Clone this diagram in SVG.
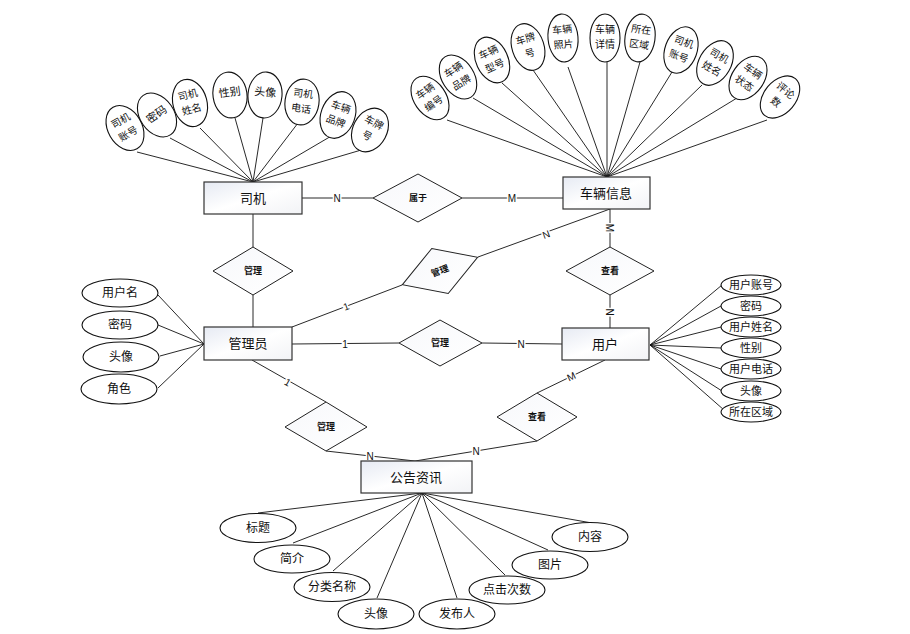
<svg xmlns="http://www.w3.org/2000/svg" width="910" height="634" viewBox="0 0 910 634">
<defs>
<linearGradient id="gb" x1="0" y1="0" x2="1" y2="1">
<stop offset="0" stop-color="#e6eaf3"/>
<stop offset="0.5" stop-color="#ffffff"/>
<stop offset="1" stop-color="#f2f3f6"/>
</linearGradient>
<linearGradient id="gd" x1="0" y1="0" x2="1" y2="1">
<stop offset="0" stop-color="#f7f8fb"/>
<stop offset="1" stop-color="#ffffff"/>
</linearGradient>
</defs>
<style>
.bx{fill:url(#gb);stroke:#333;stroke-width:1.2}
.dm{fill:url(#gd);stroke:#222;stroke-width:1}
.el{fill:#fff;stroke:#111;stroke-width:1.1}
.ln{stroke:#111;stroke-width:0.9;fill:none}
.t{font-family:"Noto Sans CJK SC","Noto Sans",sans-serif;text-anchor:middle;fill:#111}
.tb{font-size:13px}
.td{font-size:9px;font-weight:bold}
.ta{font-size:12px}
.ts{font-size:11px}
.tt{font-size:10px}
.c{font-family:"Liberation Sans",Arial,sans-serif;font-size:10px;text-anchor:middle;fill:#111;stroke:#fff;stroke-width:3;paint-order:stroke}
</style>
<rect width="910" height="634" fill="#fff"/>

<g id="connectors">
<path class="ln" d="M137,152L253,182M170,138L253,182M200,128L253,182M235,118L253,182M263,118L253,182M298,123L253,182M333,135L253,182M368,148L253,182"/>
<path class="ln" d="M447,120L607,177M473,98L607,177M502,83L607,177M533,70L607,177M568,67L607,177M607,62L607,177M640,62L607,177M672,72L607,177M702,85L607,177M737,98L607,177M767,120L607,177"/>
<path class="ln" d="M158,295L204,344M158,325L204,344M160,356L204,344M158,388L204,344"/>
<path class="ln" d="M722,285L650,345M721,306L650,345M721,327L650,345M721,348L650,345M721,369L650,345M722,391L650,345M724,410L650,345"/>
<path class="ln" d="M258,513L422,493M293,543L422,493M333,571L422,493M377,598L422,493M457,598L422,493M505,575L422,493M548,550L422,493M592,523L422,493"/>
<path class="ln" d="M302,198L373,198M462,198L563,198"/>
<path class="ln" d="M253,214L253,247M253,295L253,327"/>
<path class="ln" d="M292,327L402,285M478,257L610,209"/>
<path class="ln" d="M610,209L610,247M610,295L610,328"/>
<path class="ln" d="M292,344L399,343M482,343L562,344"/>
<path class="ln" d="M252,360L326,402M326,451L415,461"/>
<path class="ln" d="M605,360L537,393M537,441L415,461"/>
<text class="c" x="337" y="202">N</text>
<text class="c" x="512" y="202">M</text>
<text class="c" transform="translate(346,306) rotate(-20)" y="4">1</text>
<text class="c" transform="translate(546,234) rotate(-20)" y="4">N</text>
<text class="c" transform="translate(610,228) rotate(90)" y="4">M</text>
<text class="c" transform="translate(610,312) rotate(90)" y="4">N</text>
<text class="c" x="345" y="348">1</text>
<text class="c" x="521" y="348">N</text>
<text class="c" transform="translate(288,382) rotate(30)" y="4">1</text>
<text class="c" transform="translate(571,376) rotate(-25)" y="4">M</text>
<text class="c" x="370" y="460">N</text>
<text class="c" x="476" y="455">N</text>
</g>

<g id="siji"><rect class="bx" x="204" y="182" width="98" height="32"/><text class="t tb" x="253" y="203">司机</text></g>
<g id="cheliang"><rect class="bx" x="563" y="177" width="87" height="32"/><text class="t tb" x="606" y="198">车辆信息</text></g>
<g id="guanliyuan"><rect class="bx" x="204" y="327" width="88" height="33"/><text class="t tb" x="248" y="348">管理员</text></g>
<g id="yonghu"><rect class="bx" x="562" y="328" width="87" height="32"/><text class="t tb" x="605" y="349">用户</text></g>
<g id="gonggao"><rect class="bx" x="361" y="461" width="111" height="32"/><text class="t tb" x="416" y="482">公告资讯</text></g>

<g id="r-shuyu"><polygon class="dm" points="373,198 418,174 462,198 418,222"/><text class="t td" x="418" y="201">属于</text></g>
<g id="r-guanli1"><polygon class="dm" points="213,271 253,247 293,271 253,295"/><text class="t td" x="253" y="274">管理</text></g>
<g id="r-guanli2" transform="translate(440,271) rotate(-20)"><polygon class="dm" points="-40,0 0,-24 40,0 0,24"/><text class="t td" x="0" y="3">管理</text></g>
<g id="r-chakan1"><polygon class="dm" points="566,271 610,247 654,271 610,295"/><text class="t td" x="610" y="274">查看</text></g>
<g id="r-guanli3"><polygon class="dm" points="399,343 440,320 482,343 440,366"/><text class="t td" x="440" y="346">管理</text></g>
<g id="r-guanli4"><polygon class="dm" points="285,427 326,402 367,427 326,451"/><text class="t td" x="326" y="430">管理</text></g>
<g id="r-chakan2"><polygon class="dm" points="497,417 537,393 577,417 537,441"/><text class="t td" x="537" y="420">查看</text></g>

<g id="a-sj1" transform="translate(125,128) rotate(-30)"><ellipse class="el" rx="17" ry="24"/><text class="t tt" y="-5">司机</text><text class="t tt" y="10">账号</text></g>
<g id="a-sj2" transform="translate(157,115) rotate(-35)"><ellipse class="el" rx="17" ry="24"/><text class="t ts" y="3">密码</text></g>
<g id="a-sj3" transform="translate(190,103) rotate(-15)"><ellipse class="el" rx="17" ry="24"/><text class="t tt" y="-5">司机</text><text class="t tt" y="10">姓名</text></g>
<g id="a-sj4" transform="translate(230,95) rotate(-8)"><ellipse class="el" rx="17" ry="23"/><text class="t ts" y="1">性别</text></g>
<g id="a-sj5" transform="translate(265,95) rotate(5)"><ellipse class="el" rx="17" ry="23"/><text class="t ts" y="1">头像</text></g>
<g id="a-sj6" transform="translate(302,102) rotate(8)"><ellipse class="el" rx="17" ry="23"/><text class="t tt" y="-5">司机</text><text class="t tt" y="10">电话</text></g>
<g id="a-sj7" transform="translate(338,115) rotate(20)"><ellipse class="el" rx="17" ry="24"/><text class="t tt" y="-5">车辆</text><text class="t tt" y="10">品牌</text></g>
<g id="a-sj8" transform="translate(370,130) rotate(28)"><ellipse class="el" rx="17" ry="23"/><text class="t tt" y="-5">车牌</text><text class="t tt" y="10">号</text></g>

<g id="a-cl1" transform="translate(430,98) rotate(-35)"><ellipse class="el" rx="16" ry="24"/><text class="t tt" y="-5">车辆</text><text class="t tt" y="10">编号</text></g>
<g id="a-cl2" transform="translate(458,77) rotate(-33)"><ellipse class="el" rx="16" ry="24"/><text class="t tt" y="-5">车辆</text><text class="t tt" y="10">品牌</text></g>
<g id="a-cl3" transform="translate(492,60) rotate(-25)"><ellipse class="el" rx="16" ry="24"/><text class="t tt" y="-5">车辆</text><text class="t tt" y="10">型号</text></g>
<g id="a-cl4" transform="translate(528,47) rotate(-18)"><ellipse class="el" rx="16" ry="24"/><text class="t tt" y="-5">车牌</text><text class="t tt" y="10">号</text></g>
<g id="a-cl5" transform="translate(563,38) rotate(-5)"><ellipse class="el" rx="15" ry="24"/><text class="t tt" y="-5">车辆</text><text class="t tt" y="10">照片</text></g>
<g id="a-cl6" transform="translate(605,38)"><ellipse class="el" rx="15" ry="24"/><text class="t tt" y="-5">车辆</text><text class="t tt" y="10">详情</text></g>
<g id="a-cl7" transform="translate(640,38) rotate(8)"><ellipse class="el" rx="15" ry="24"/><text class="t tt" y="-5">所在</text><text class="t tt" y="10">区域</text></g>
<g id="a-cl8" transform="translate(681,50) rotate(20)"><ellipse class="el" rx="16" ry="24"/><text class="t tt" y="-5">司机</text><text class="t tt" y="10">账号</text></g>
<g id="a-cl9" transform="translate(715,63) rotate(30)"><ellipse class="el" rx="16" ry="24"/><text class="t tt" y="-5">司机</text><text class="t tt" y="10">姓名</text></g>
<g id="a-cl10" transform="translate(748,78) rotate(35)"><ellipse class="el" rx="16" ry="24"/><text class="t tt" y="-5">车辆</text><text class="t tt" y="10">状态</text></g>
<g id="a-cl11" transform="translate(780,97) rotate(40)"><ellipse class="el" rx="16" ry="24"/><text class="t tt" y="-5">评论</text><text class="t tt" y="10">数</text></g>

<g id="a-gl1"><ellipse class="el" cx="120" cy="293" rx="38" ry="14"/><text class="t ta" x="120" y="297">用户名</text></g>
<g id="a-gl2"><ellipse class="el" cx="120" cy="325" rx="38" ry="14"/><text class="t ta" x="120" y="329">密码</text></g>
<g id="a-gl3"><ellipse class="el" cx="121" cy="357" rx="38" ry="15"/><text class="t ta" x="121" y="361">头像</text></g>
<g id="a-gl4"><ellipse class="el" cx="119" cy="389" rx="38" ry="15"/><text class="t ta" x="119" y="393">角色</text></g>

<g id="a-yh1"><ellipse class="el" cx="751" cy="285" rx="30" ry="10"/><text class="t ts" x="751" y="289">用户账号</text></g>
<g id="a-yh2"><ellipse class="el" cx="751" cy="306" rx="30" ry="10"/><text class="t ts" x="751" y="310">密码</text></g>
<g id="a-yh3"><ellipse class="el" cx="751" cy="327" rx="30" ry="10"/><text class="t ts" x="751" y="331">用户姓名</text></g>
<g id="a-yh4"><ellipse class="el" cx="751" cy="348" rx="30" ry="10"/><text class="t ts" x="751" y="352">性别</text></g>
<g id="a-yh5"><ellipse class="el" cx="751" cy="369" rx="30" ry="10"/><text class="t ts" x="751" y="373">用户电话</text></g>
<g id="a-yh6"><ellipse class="el" cx="751" cy="391" rx="30" ry="10"/><text class="t ts" x="751" y="395">头像</text></g>
<g id="a-yh7"><ellipse class="el" cx="751" cy="412" rx="30" ry="10"/><text class="t ts" x="751" y="416">所在区域</text></g>

<g id="a-gg1"><ellipse class="el" cx="258" cy="528" rx="38" ry="14.5"/><text class="t ta" x="258" y="532">标题</text></g>
<g id="a-gg2"><ellipse class="el" cx="292" cy="559" rx="38" ry="14"/><text class="t ta" x="292" y="563">简介</text></g>
<g id="a-gg3"><ellipse class="el" cx="332" cy="587" rx="38" ry="14.5"/><text class="t ta" x="332" y="591">分类名称</text></g>
<g id="a-gg4"><ellipse class="el" cx="376" cy="614" rx="38" ry="15"/><text class="t ta" x="376" y="618">头像</text></g>
<g id="a-gg5"><ellipse class="el" cx="457" cy="614" rx="38" ry="15"/><text class="t ta" x="457" y="618">发布人</text></g>
<g id="a-gg6"><ellipse class="el" cx="507" cy="590" rx="38" ry="14"/><text class="t ta" x="507" y="594">点击次数</text></g>
<g id="a-gg7"><ellipse class="el" cx="550" cy="565" rx="38" ry="14"/><text class="t ta" x="550" y="569">图片</text></g>
<g id="a-gg8"><ellipse class="el" cx="590" cy="537" rx="38" ry="14.5"/><text class="t ta" x="590" y="541">内容</text></g>
</svg>
